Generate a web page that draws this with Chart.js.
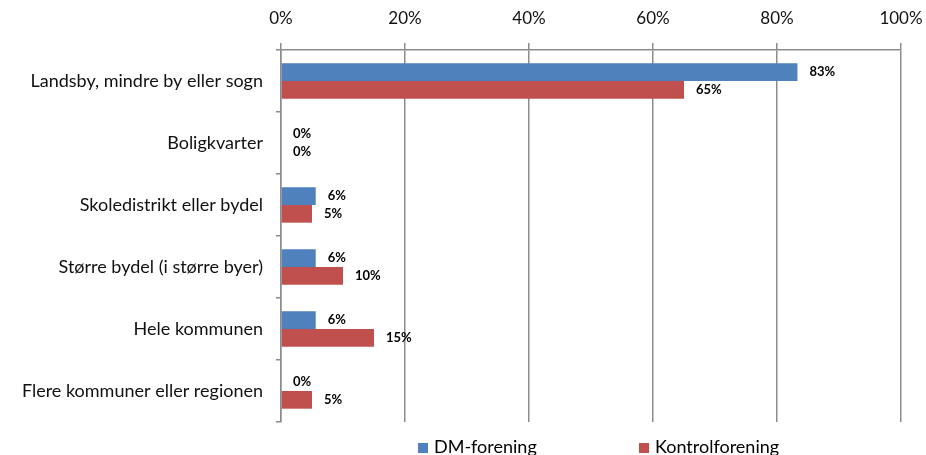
<!DOCTYPE html>
<html>
<head>
<meta charset="utf-8">
<script src="https://cdn.jsdelivr.net/npm/chart.js@4"></script>
<style>
  body { margin: 0; background: #fff; overflow: hidden; }
  #wrap { position: relative; width: 926px; height: 455px; }
  #legend { position: absolute; top: 435px; left: 0; width: 926px; font-family: Lato, "Open Sans", sans-serif; font-size: 18px; color: #000; }
  .item { position: absolute; white-space: nowrap; }
  .box { display: inline-block; width: 10px; height: 10px; margin-right: 6px; vertical-align: 0; }
</style>
</head>
<body>
<div id="wrap">
  <canvas id="chart" width="926" height="455"></canvas>
  <div id="legend">
    <span class="item" style="left:418px"><span class="box" style="background:#4F81BD"></span>DM-forening</span>
    <span class="item" style="left:639px"><span class="box" style="background:#C0504D"></span>Kontrolforening</span>
  </div>
</div>
<script>
const categories = [
    "Landsby, mindre by eller sogn",
    "Boligkvarter",
    "Skoledistrikt eller bydel",
    "Større bydel (i større byer)",
    "Hele kommunen",
    "Flere kommuner eller regionen"
];
const dmForening = [83.3, 0, 5.6, 5.6, 5.6, 0];
const kontrolForening = [65, 0, 5, 10, 15, 5];
const xTicks = [0, 20, 40, 60, 80, 100];

// draws the bold value labels right after each bar
const valueLabels = {
    id: "valueLabels",
    afterDatasetsDraw(chart) {
        const ctx = chart.ctx;
        ctx.save();
        ctx.font = "bold 13px Lato, 'Open Sans', sans-serif";
        ctx.fillStyle = "#000";
        ctx.textBaseline = "middle";
        ctx.textAlign = "left";
        chart.data.datasets.forEach((ds, i) => {
            chart.getDatasetMeta(i).data.forEach((bar, j) => {
                ctx.fillText(Math.round(ds.data[j]) + "%", bar.x + 12, bar.y);
            });
        });
        ctx.restore();
    }
};

const ctx = document.getElementById("chart").getContext("2d");

new Chart(ctx, {
    type: "bar",
    data: {
        labels: categories,
        datasets: [
            { label: "DM-forening", data: dmForening, backgroundColor: "#4F81BD" },
            { label: "Kontrolforening", data: kontrolForening, backgroundColor: "#C0504D" }
        ]
    },
    options: {
        indexAxis: "y",
        responsive: false,
        animation: false,
        categoryPercentage: 0.57,
        barPercentage: 1.0,
        layout: { padding: { left: 0, right: 25, top: 0, bottom: 33 } },
        plugins: {
            legend: { display: false },
            tooltip: { enabled: false }
        },
        scales: {
            x: {
                position: "top",
                min: 0,
                max: 100,
                afterBuildTicks: (scale) => {
                    scale.ticks = xTicks.map(v => ({ value: v }));
                },
                afterFit: (scale) => {
                    scale.height = 50;
                    scale.paddingLeft = 0;
                    scale.paddingRight = 0;
                },
                ticks: {
                    callback: (v) => v + "%",
                    font: { family: "Lato, 'Open Sans', sans-serif", size: 17 },
                    color: "#111",
                    padding: 14
                },
                grid: { color: "#8c8c8c", lineWidth: 1.5, tickLength: 7 },
                border: { color: "#8c8c8c", width: 1.5 }
            },
            y: {
                afterFit: (scale) => { scale.width = 281; },
                ticks: {
                    font: { family: "Lato, 'Open Sans', sans-serif", size: 18 },
                    color: "#111",
                    padding: 13
                },
                grid: { offset: true, drawOnChartArea: false, drawTicks: true, tickLength: 5, color: "#8c8c8c", lineWidth: 1.5 },
                border: { color: "#8c8c8c", width: 1.5 }
            }
        }
    },
    plugins: [valueLabels]
});
</script>
</body>
</html>
